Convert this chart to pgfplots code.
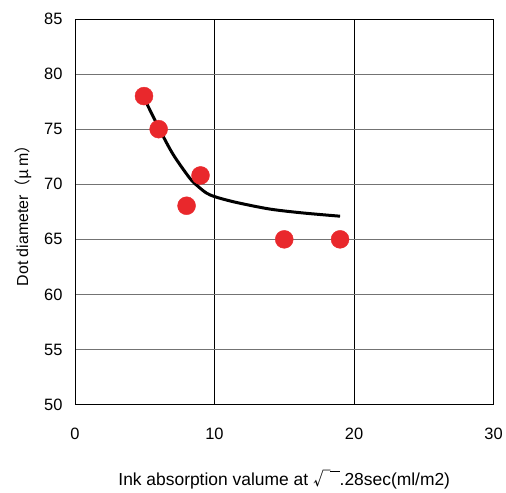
\documentclass[border=0pt]{standalone}
\usepackage{pgfplots}
\pgfplotsset{compat=1.18}
\usepackage{fontspec}
\setmainfont{Liberation Sans}
\newfontfamily\cjk{Noto Sans CJK JP}
\definecolor{dotred}{RGB}{233,40,44}
\begin{document}
\begin{tikzpicture}
\begin{axis}[
  scale only axis, width=419bp, height=386bp,
  xmin=0, xmax=30, ymin=50, ymax=85,
  xtick={0,10,20,30}, ytick={50,55,...,85},
  major tick length=0pt,
  /pgf/number format/assume math mode=true,
  ticklabel style={font=\fontsize{16.5}{18}\selectfont},
  xticklabel style={yshift=-20bp},
  yticklabel style={xshift=-9bp},
  grid=major,
  x grid style={black, line width=0.6pt},
  y grid style={gray!90!black, line width=0.8pt},
  axis line style={black, line width=0.8pt},
  xlabel={\fontsize{17.5}{19}\selectfont Ink absorption valume at {\cjk √}\kern-0.02em\rule[0.78em]{0.55em}{0.07em}.28sec(ml/m2)},
  ylabel={\fontsize{16}{17}\selectfont Dot diameter{\cjk （}{\cjk μ}\,m{\cjk ）}},
  xlabel style={yshift=-24bp},
  ylabel style={yshift=6bp},
]
\addplot[black, line width=3bp, smooth, tension=0.5] coordinates {
(5.0,77.7) (6.1,74.9) (7.04,72.7) (8.23,70.55) (8.83,69.8) (9.43,69.2) (10.1,68.84) (11.57,68.35) (13.96,67.75) (16.3,67.4) (19.0,67.1)
};
\addplot[only marks, mark=*, mark size=9bp, mark options={fill=dotred, draw=none}, color=dotred] coordinates {
(4.95,78.0) (6.0,75.0) (8.0,68.05) (9.0,70.8) (15.0,65.0) (19.0,65.0)
};
\end{axis}
\path (current axis.south west) ++(-75bp,-84bp) (current axis.north east) ++(12bp,19bp);
\end{tikzpicture}
\end{document}
